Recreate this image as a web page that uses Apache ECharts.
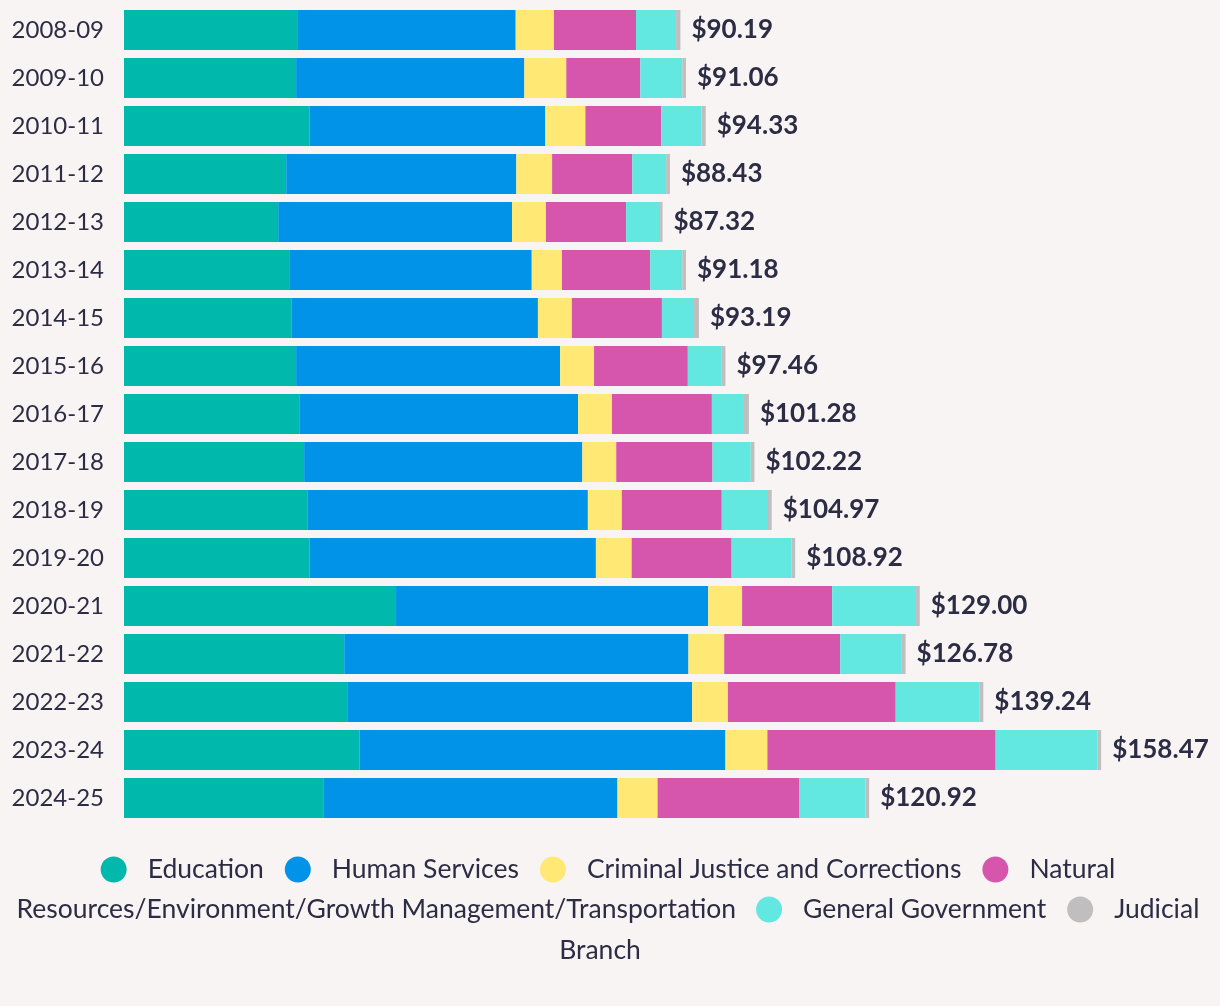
<!DOCTYPE html>
<html><head><meta charset="utf-8">
<script src="https://cdn.jsdelivr.net/npm/echarts@6/dist/echarts.min.js"></script>
<style>html,body{margin:0;padding:0;background:#f8f4f3}#c{width:1220px;height:1006px}</style>
</head><body><div id="c"></div>
<script>
const categories = ['2008-09','2009-10','2010-11','2011-12','2012-13','2013-14','2014-15','2015-16','2016-17','2017-18','2018-19','2019-20','2020-21','2021-22','2022-23','2023-24','2024-25'];
const education      = [28.2,27.9,30.1,26.3,25.0,26.9,27.2,27.9,28.5,29.2,29.8,30.1,44.1,35.7,36.3,38.2,32.4];
const humanServices  = [35.3,37.0,38.2,37.3,37.9,39.2,39.9,42.8,45.1,45.1,45.4,46.4,50.6,55.8,55.8,59.3,47.6];
const criminalJustice= [6.2,6.8,6.5,5.8,5.5,4.9,5.5,5.5,5.5,5.5,5.5,5.8,5.5,5.8,5.8,6.8,6.5];
const naturalRes     = [13.3,12.0,12.3,13.0,13.0,14.3,14.6,15.2,16.2,15.6,16.2,16.2,14.6,18.8,27.2,37.0,23.0];
const generalGov     = [6.5,6.8,6.5,5.5,5.5,5.2,5.2,5.5,5.2,6.2,7.5,9.7,13.6,10.0,13.6,16.5,10.7];
const judicial       = [0.7,0.6,0.7,0.6,0.4,0.6,0.8,0.6,0.8,0.6,0.6,0.6,0.6,0.6,0.6,0.6,0.6];
const totals         = [90.19,91.06,94.33,88.43,87.32,91.18,93.19,97.46,101.28,102.22,104.97,108.92,129.00,126.78,139.24,158.47,120.92];
const seriesNames = ['Education','Human Services','Criminal Justice and Corrections','Natural Resources/Environment/Growth Management/Transportation','General Government','Judicial Branch'];

const colors = ['#00b8ac','#0193e8','#ffe873','#d656ae','#62e8e0','#c0bebe'];
const FONT = 'Lato';
const TXT = '#2c2c44';
const LFS = 26.5;

const cv = document.createElement('canvas').getContext('2d');
function tw(s){ cv.font = LFS + 'px ' + FONT; return cv.measureText(s).width; }
const ICON = 26, PADL = 16, GAP = 21, CENTER = 608;
function itemW(label){ return ICON + 5 + PADL + tw(label); }

const row1Labels = ['Education','Human Services','Criminal Justice and Corrections','Natural'];
const row1W = row1Labels.reduce((a,l)=>a+itemW(l),0) + GAP*(row1Labels.length-1);
const row2Text = 'Resources/Environment/Growth Management/Transportation';
const row2Labels = ['General Government','Judicial'];
const row2LegW = row2Labels.reduce((a,l)=>a+itemW(l),0) + GAP*(row2Labels.length-1);
const row2W = tw(row2Text) + 20 + row2LegW;
const row2Start = CENTER - row2W/2;

const dataArrs = [education, humanServices, criminalJustice, naturalRes, generalGov, judicial];
const chart = echarts.init(document.getElementById('c'));
const legendText = {color: TXT, fontSize: LFS, fontFamily: FONT, lineHeight: 26, padding: [0,0,0,PADL]};
chart.setOption({
  backgroundColor: '#f8f4f3',
  animation: false,
  grid: {left: 124, right: 109, top: 6, height: 816},
  xAxis: {type: 'value', min: 0, max: 160, show: false},
  yAxis: {type: 'category', data: categories, inverse: true,
    axisLine: {show: false}, axisTick: {show: false},
    axisLabel: {color: TXT, fontSize: 24, fontFamily: FONT, margin: 20}},
  legend: [
    {data: seriesNames.slice(0,4), left: CENTER - row1W/2, top: 856, orient: 'horizontal', padding: 0,
     icon: 'circle', itemWidth: ICON, itemHeight: ICON, itemGap: GAP, textStyle: legendText,
     formatter: n => n.startsWith('Natural') ? 'Natural' : n},
    {data: seriesNames.slice(4), left: row2Start + tw(row2Text) + 20, top: 896, orient: 'horizontal', padding: 0,
     icon: 'circle', itemWidth: ICON, itemHeight: ICON, itemGap: GAP, textStyle: legendText,
     formatter: n => n === 'Judicial Branch' ? 'Judicial' : n}
  ],
  graphic: [
    {type: 'text', x: row2Start, y: 909, style: {text: row2Text, fill: TXT, font: LFS + 'px ' + FONT, verticalAlign: 'middle', textVerticalAlign: 'middle'}},
    {type: 'text', x: 600, y: 950, style: {text: 'Branch', fill: TXT, font: LFS + 'px ' + FONT, align: 'center', textAlign: 'center', verticalAlign: 'middle', textVerticalAlign: 'middle'}}
  ],
  series: dataArrs.map((arr, i) => ({
    name: seriesNames[i], type: 'bar', stack: 'total', data: arr, barWidth: 40,
    itemStyle: {color: colors[i]},
    label: i === 5 ? {show: true, position: 'right', distance: 11, color: TXT, fontSize: 26, fontWeight: 'bold', fontFamily: FONT,
      formatter: p => '$' + totals[p.dataIndex].toFixed(2)} : {show: false}
  }))
});
</script></body></html>
